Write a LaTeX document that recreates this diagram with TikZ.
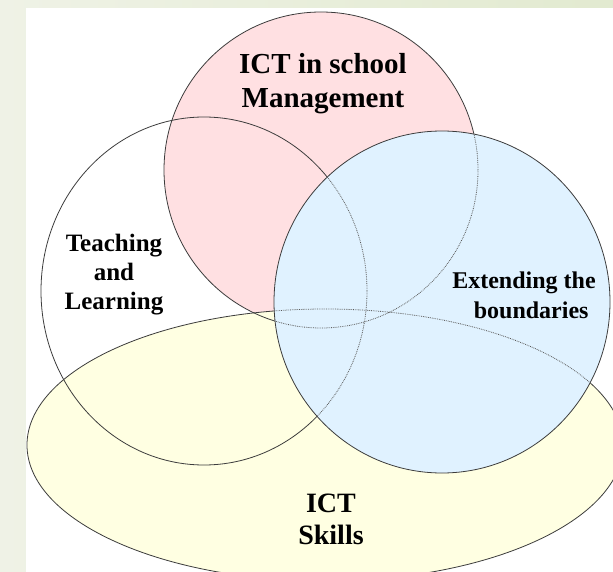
\documentclass[tikz,border=0pt]{standalone}
\usepackage{fontspec}
\setmainfont{Liberation Serif}
\usepackage{tikz}
\usetikzlibrary{positioning}
\definecolor{bgleft}{RGB}{239,242,230}
\definecolor{bgright}{RGB}{226,234,208}
\definecolor{linegray}{RGB}{60,60,60}
\definecolor{redfill}{RGB}{255,224,226}
\definecolor{bluefill}{RGB}{224,242,255}
\definecolor{yellowfill}{RGB}{255,255,226}
\tikzset{region/.style={draw=linegray,line width=0.8pt}}
\tikzset{hidden/.style={draw=linegray!85,densely dotted,line width=0.8pt}}
\tikzset{areatext/.style={inner sep=0pt,anchor=north,align=center,text=black}}
\newcommand{\teachshape}{(204,291) ellipse [x radius=163pt, y radius=174pt]}
\newcommand{\mgmtshape}{(321,170) ellipse [x radius=157pt, y radius=158pt]}
\newcommand{\skillshape}{(325,445) ellipse [x radius=298pt, y radius=136pt]}
\newcommand{\boundshape}{(442,302) ellipse [x radius=168pt, y radius=171pt]}

\begin{document}
\begin{tikzpicture}[x=1pt,y=-1pt]
                \useasboundingbox (0,0) rectangle (613,572);
                \fill[left color=bgleft,right color=bgright] (0,0) rectangle (613,572);
                \fill[white] (26,8) rectangle (613,572);
                \begin{scope}
                    \clip (26,8) rectangle (613,572);
                    \fill[redfill] \mgmtshape;
                    \fill[yellowfill] \skillshape;
                    \draw[region] \teachshape;
                    \draw[region] \mgmtshape;
                    \draw[region] \skillshape;
                    % the blue set lies on top, the others show through it
                    \fill[bluefill] \boundshape;
                    \begin{scope}
                        \clip \boundshape;
                        \draw[hidden] \teachshape;
                        \draw[hidden] \mgmtshape;
                        \draw[hidden] \skillshape;
                    \end{scope}
                    \draw[region] \boundshape;
                \end{scope}
                \node[areatext,font=\bfseries\fontsize{29}{34}\selectfont] (mgmt) at (323,53) {ICT in school\\Management};
                \node[areatext,font=\bfseries\fontsize{25}{29}\selectfont] (teach) at (114,234) {Teaching\\and\\Learning};
                \node[areatext,font=\bfseries\fontsize{24}{30}\selectfont] (bound) at (524,272) {Extending the\\\hspace*{0.6em}boundaries};
                \node[areatext,font=\bfseries\fontsize{28}{32}\selectfont] (skill) at (331,494) {ICT\\Skills};
            \end{tikzpicture}
\end{document}
